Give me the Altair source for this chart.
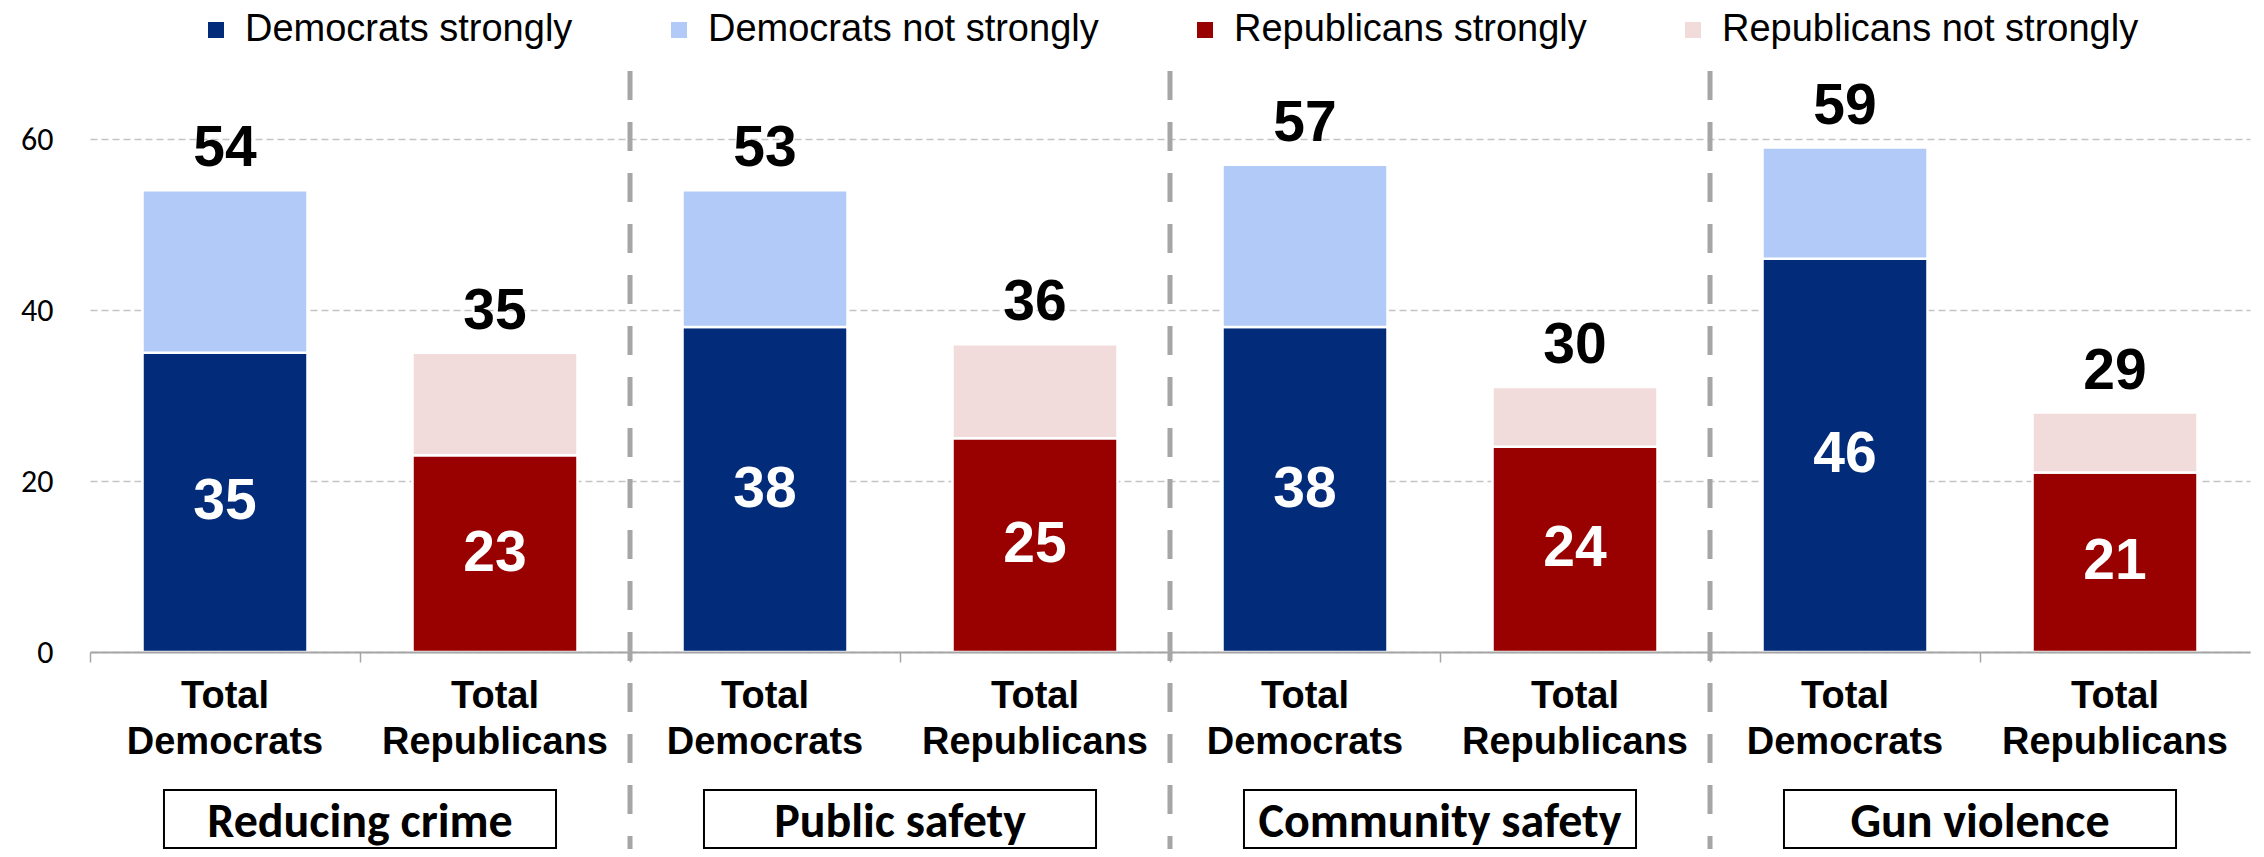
import altair as alt
import pandas as pd

# ---- data ----
groups = ["Reducing crime", "Public safety", "Community safety", "Gun violence"]
parties = ["Democrats", "Republicans"]
series_names = ["Democrats strongly", "Democrats not strongly",
                "Republicans strongly", "Republicans not strongly"]
series_colors = ["#022B7A", "#B2CAF7", "#990000", "#F2DCDB"]
dem_strong = [35, 38, 38, 46]
dem_not_strong = [19, 16, 19, 13]
rep_strong = [23, 25, 24, 21]
rep_not_strong = [12, 11, 7, 7]
dem_total_labels = [54, 53, 57, 59]
rep_total_labels = [35, 36, 30, 29]
y_ticks = [0, 20, 40, 60]

# ---- build tables ----
cats, bar_rows, total_rows, inner_rows, cat_rows = [], [], [], [], []
for i, g in enumerate(groups):
    per_party = {
        "Democrats": (dem_strong[i], dem_not_strong[i], dem_total_labels[i]),
        "Republicans": (rep_strong[i], rep_not_strong[i], rep_total_labels[i]),
    }
    for party in parties:
        strong, weak, tot = per_party[party]
        cat = f"{g}|{party}"
        cats.append(cat)
        bar_rows.append(dict(cat=cat, series=f"{party} strongly", value=strong, order=0))
        bar_rows.append(dict(cat=cat, series=f"{party} not strongly", value=weak, order=1))
        total_rows.append(dict(cat=cat, top=strong + weak, label=str(tot)))
        inner_rows.append(dict(cat=cat, mid=strong / 2, label=str(strong)))
        cat_rows.append(dict(cat=cat, label=f"Total\n{party}"))

bar_df = pd.DataFrame(bar_rows)
total_df = pd.DataFrame(total_rows)
inner_df = pd.DataFrame(inner_rows)
cat_df = pd.DataFrame(cat_rows)
sep_df = pd.DataFrame([dict(cat=f"{g}|Democrats") for g in groups[1:]])
group_df = pd.DataFrame([dict(group=g) for g in groups])

ARIAL = "Liberation Sans"
CALIBRI = "Carlito, Lato"

xscale = alt.Scale(domain=cats, paddingInner=0, paddingOuter=0)
yscale = alt.Scale(domain=[0, 60], nice=False)
gscale = alt.Scale(domain=groups, paddingInner=0.274, paddingOuter=0.137)

bars = alt.Chart(bar_df).mark_bar(
    width=alt.RelativeBandSize(0.611), stroke="white", strokeWidth=2.5
).encode(
    x=alt.X("cat:N", scale=xscale, sort=cats,
            axis=alt.Axis(labels=False, title=None, domainColor="#A6A6A6",
                          domainWidth=2, tickColor="#A6A6A6", tickWidth=1.5,
                          tickSize=10, bandPosition=0, grid=False, zindex=1)),
    y=alt.Y("value:Q", stack="zero", scale=yscale,
            axis=alt.Axis(values=y_ticks, title=None, domain=False, ticks=False,
                          labelFont=CALIBRI, labelFontSize=32, labelColor="#000000",
                          labelPadding=37, gridColor="#C4C4C4", gridDash=[7, 4],
                          gridWidth=1.5)),
    color=alt.Color("series:N",
                    scale=alt.Scale(domain=series_names, range=series_colors),
                    legend=alt.Legend(orient="none", legendX=107, legendY=-128,
                                      direction="horizontal", title=None,
                                      symbolType="square", symbolSize=256,
                                      symbolStrokeWidth=0, labelFont=ARIAL,
                                      labelFontSize=38, labelColor="#000000",
                                      labelOffset=10, columnPadding=87,
                                      padding=0, labelLimit=600)),
    order=alt.Order("order:Q"),
)

totals = alt.Chart(total_df).mark_text(
    font=ARIAL, fontSize=57, fontWeight="bold", color="#000000",
    baseline="alphabetic", dy=-24
).encode(
    x=alt.X("cat:N", scale=xscale, sort=cats, axis=None),
    y=alt.Y("top:Q", scale=yscale),
    text="label:N",
)

inner = alt.Chart(inner_df).mark_text(
    font=ARIAL, fontSize=57, fontWeight="bold", color="#FFFFFF", baseline="middle"
).encode(
    x=alt.X("cat:N", scale=xscale, sort=cats, axis=None),
    y=alt.Y("mid:Q", scale=yscale),
    text="label:N",
)

cat_labels = alt.Chart(cat_df).mark_text(
    font=ARIAL, fontSize=38, fontWeight="bold", color="#000000",
    baseline="middle", lineBreak="\n", lineHeight=46
).encode(
    x=alt.X("cat:N", scale=xscale, sort=cats, axis=None),
    y=alt.value(558),
    text="label:N",
)

separators = alt.Chart(sep_df).mark_rule(
    color="#A6A6A6", strokeWidth=5, strokeDash=[29, 22]
).encode(
    x=alt.X("cat:N", scale=xscale, sort=cats, bandPosition=0, axis=None),
    y=alt.value(-68),
    y2=alt.value(710),
)

boxes = alt.Chart(group_df).mark_rect(
    fill="white", stroke="black", strokeWidth=2
).encode(
    x=alt.X("group:N", scale=gscale, sort=groups, axis=None),
    y=alt.value(651),
    y2=alt.value(709),
)

box_text = alt.Chart(group_df).mark_text(
    font=CALIBRI, fontSize=48, fontWeight="bold", color="#000000",
    baseline="alphabetic"
).encode(
    x=alt.X("group:N", scale=gscale, sort=groups, axis=None),
    y=alt.value(698),
    text="group:N",
)

chart = alt.layer(
    bars, totals, inner, cat_labels, separators, boxes, box_text
).resolve_scale(x="independent").properties(
    width=2160, height=513,
    autosize=alt.AutoSizeParams(type="none"),
    padding={"left": 82, "top": 131, "right": 6, "bottom": 197},
    background="white",
).configure_view(stroke=None)

chart.save("out.html", embed_options={"renderer": "svg", "actions": False})
